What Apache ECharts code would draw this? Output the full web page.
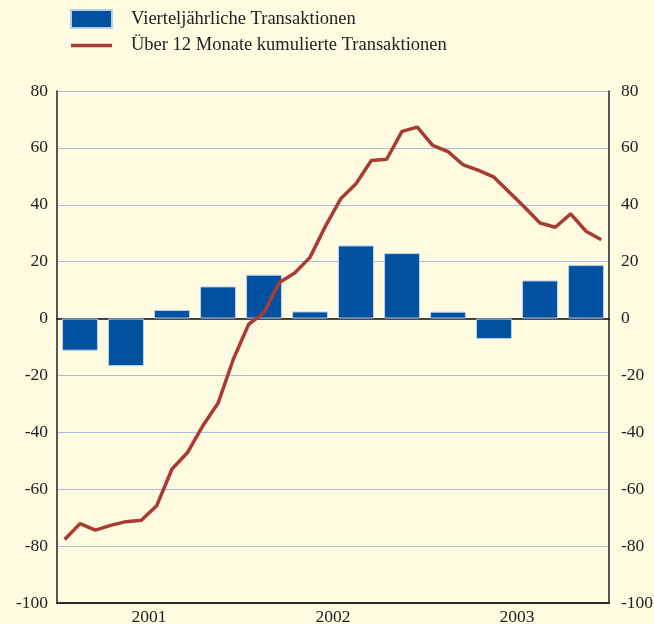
<!DOCTYPE html>
<html>
<head>
<meta charset="utf-8">
<script src="https://cdn.jsdelivr.net/npm/echarts@6/dist/echarts.min.js"></script>
<style>
  html, body { margin: 0; padding: 0; background: #fefbe0; }
  #chart { width: 654px; height: 624px; }
</style>
</head>
<body>
<div id="chart"></div>
<script>
  // Quartale 2001-2003
  const quarters = ['2001Q1', '2001Q2', '2001Q3', '2001Q4', '2002Q1', '2002Q2', '2002Q3', '2002Q4', '2003Q1', '2003Q2', '2003Q3', '2003Q4']
  const quarterly = [-11.3, -16.7, 3.0, 11.3, 15.4, 2.5, 25.7, 23.0, 2.4, -7.2, 13.4, 18.8]
  // Monate (36)
  const months = []
  for (let y = 2001; y <= 2003; y++) {
    for (let m = 1; m <= 12; m++) months.push(y + '-' + m)
  }
  const cumulated = [
    -77.7, -72.1, -74.4, -72.7, -71.4, -70.9, -65.8, -52.9, -47.2, -37.8, -29.8, -14.3,
    -2.0, 2.1, 12.7, 16.0, 21.5, 32.4, 42.1, 47.4, 55.6, 56.0, 65.8, 67.3,
    60.9, 58.7, 54.0, 52.1, 49.7, 44.4, 39.1, 33.6, 32.1, 36.8, 30.7, 27.7
  ]
  const years = ['2001', '2002', '2003']

  const font = '"Liberation Serif", "Times New Roman", serif'
  const chart = echarts.init(document.getElementById('chart'))

  const yAxisBase = {
    type: 'value',
    min: -100,
    max: 80,
    interval: 20,
    axisLine: { show: true, lineStyle: { color: '#222', width: 1.5 } },
    axisTick: { show: false }
  }

  // Legendensymbol: dünner Strich (Randpunkte halten die Box auf 41x18)
  const lineIcon = 'path://M0,0L0.01,0M0,7.2L41,7.2L41,10.8L0,10.8ZM41,18L40.99,18'

  chart.setOption({
    backgroundColor: '#fefbe0',
    animation: false,
    legend: {
      orient: 'vertical',
      left: 65,
      top: 4,
      itemWidth: 41,
      itemHeight: 18,
      itemGap: 7,
      textStyle: { color: '#222', fontFamily: font, fontSize: 18.5, padding: [0, 0, 0, 14] },
      data: [
        { name: 'Vierteljährliche Transaktionen', icon: 'rect' },
        { name: 'Über 12 Monate kumulierte Transaktionen', icon: lineIcon, itemStyle: { color: '#a83b33', borderWidth: 0 } }
      ]
    },
    grid: { left: 57, right: 45, top: 91, bottom: 21, outerBoundsMode: 'none' },
    xAxis: [
      {
        type: 'category',
        data: quarters,
        position: 'bottom',
        axisLine: { onZero: false, lineStyle: { color: '#222', width: 1.5 } },
        axisTick: { length: 4, lineStyle: { color: '#222' } },
        axisLabel: { show: false },
        splitLine: { show: false }
      },
      {
        type: 'category',
        data: months,
        position: 'bottom',
        axisLine: { onZero: true, lineStyle: { color: '#111', width: 1.5 } },
        axisTick: { show: false },
        axisLabel: { show: false }
      },
      {
        type: 'category',
        data: years,
        position: 'bottom',
        axisLine: { onZero: false, lineStyle: { color: '#222', width: 1.5 } },
        axisTick: { length: 9, lineStyle: { color: '#222', width: 1.2 } },
        axisLabel: { color: '#222', fontFamily: font, fontSize: 17.5, margin: 5 }
      }
    ],
    yAxis: [
      Object.assign({}, yAxisBase, {
        position: 'left',
        axisLabel: { color: '#222', fontFamily: font, fontSize: 17.5, margin: 9 },
        splitLine: { show: true, lineStyle: { color: '#a6bde0', width: 1 } }
      }),
      Object.assign({}, yAxisBase, {
        position: 'right',
        axisLabel: { color: '#222', fontFamily: font, fontSize: 17.5, margin: 12 },
        splitLine: { show: false }
      })
    ],
    series: [
      {
        name: 'Vierteljährliche Transaktionen',
        type: 'bar',
        xAxisIndex: 0,
        yAxisIndex: 0,
        data: quarterly,
        barWidth: '78%',
        itemStyle: { color: '#0052a0', borderColor: '#b9cfe8', borderWidth: 1 }
      },
      {
        name: 'Über 12 Monate kumulierte Transaktionen',
        type: 'line',
        xAxisIndex: 1,
        yAxisIndex: 0,
        data: cumulated,
        symbol: 'none',
        lineStyle: { color: '#a83b33', width: 3.5 },
        itemStyle: { color: '#a83b33' },
        z: 3
      }
    ]
  })
</script>
</body>
</html>
